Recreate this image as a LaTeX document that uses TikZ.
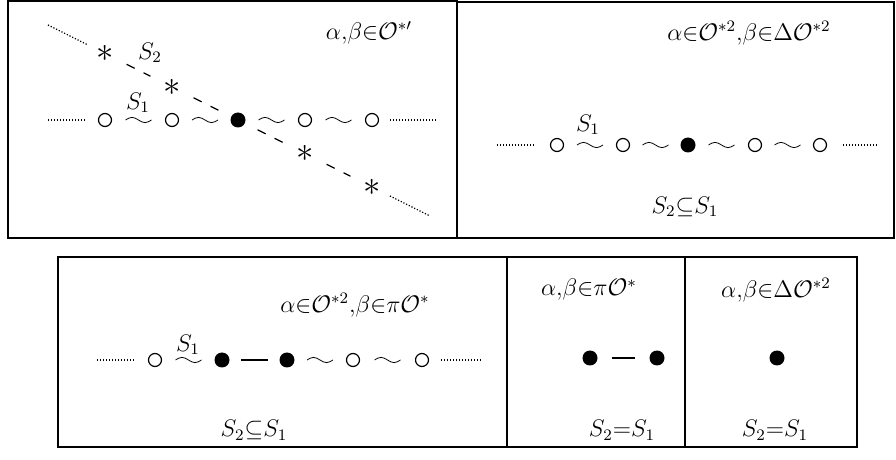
\documentclass[tikz,border=0pt]{standalone}
\usepackage{amsmath,amssymb}
\usetikzlibrary{calc}

\begin{document}
\begin{tikzpicture}[x=0.5pt,y=-0.5pt,
  every node/.style={font=\fontsize{12}{14}\selectfont},
  opendot/.style={circle,draw,line width=0.6pt,minimum size=6.5pt,inner sep=0pt},
  fulldot/.style={circle,fill,minimum size=7.5pt,inner sep=0pt},
  asterisk/.style={inner sep=0pt,font=\fontsize{17.28}{20}\selectfont},
  wig/.style={line width=0.55pt,to path={($(\tikztostart)!.5!(\tikztotarget)+(-6.5pt,0)$)
    sin ++(3.25pt,1.3pt) cos ++(3.25pt,-1.3pt) sin ++(3.25pt,-1.3pt) cos ++(3.25pt,1.3pt)}},
  dotline/.style={line width=0.6pt,dash pattern=on 0.6pt off 0.9pt},
  dashline/.style={line width=0.6pt,dash pattern=on 4.5pt off 5pt,shorten <=7pt,shorten >=7pt},
  box/.style={line width=0.8pt}]
  \useasboundingbox (0,0) rectangle (896,460);

  % top left panel
  \draw[box] (8,1) rectangle (457,238);
  \node at (369,33) {$\alpha{,}\beta{\in}\mathcal{O}^{*\prime}$};
  \node[opendot] (a1) at (105,120) {};
  \node[opendot] (a2) at (172,120) {};
  \node[fulldot] (a3) at (238,120) {};
  \node[opendot] (a4) at (305,120) {};
  \node[opendot] (a5) at (372,120) {};
  \coordinate (al) at (48,120);
  \coordinate (ar) at (437,120);
  \draw[dotline,shorten >=5.5pt] (al) -- (a1);
  \draw (a1) to[wig] (a2);
  \draw (a2) to[wig] (a3);
  \draw (a3) to[wig] (a4);
  \draw (a4) to[wig] (a5);
  \draw[dotline,shorten <=5.5pt] (a5) -- (ar);
  \node at (138,103) {$S_1$};
  \node[asterisk] (t1) at (105,53.5) {$*$};
  \node[asterisk] (t2) at (172,87) {$*$};
  \node[asterisk] (t3) at (305,153.5) {$*$};
  \node[asterisk] (t4) at (372,187) {$*$};
  \coordinate (tl) at (48,25);
  \coordinate (tr) at (430,216);
  \draw[dotline,shorten >=5pt] (tl) -- (t1);
  \draw[dashline] (t1) -- (t2);
  \draw[dashline] (t2) -- (a3);
  \draw[dashline] (a3) -- (t3);
  \draw[dashline] (t3) -- (t4);
  \draw[dotline,shorten <=5pt] (t4) -- (tr);
  \node at (150,53) {$S_2$};

  % top right panel
  \draw[box] (457,2) rectangle (894,238);
  \node at (749,33) {$\alpha{\in}\mathcal{O}^{*2}{,}\beta{\in}\Delta\mathcal{O}^{*2}$};
  \node[opendot] (b1) at (557,145) {};
  \node[opendot] (b2) at (623,145) {};
  \node[fulldot] (b3) at (688,145) {};
  \node[opendot] (b4) at (755,145) {};
  \node[opendot] (b5) at (820,145) {};
  \coordinate (bl) at (497,145);
  \coordinate (br) at (877,145);
  \draw[dotline,shorten >=8pt] (bl) -- (b1);
  \draw (b1) to[wig] (b2);
  \draw (b2) to[wig] (b3);
  \draw (b3) to[wig] (b4);
  \draw (b4) to[wig] (b5);
  \draw[dotline,shorten <=8pt] (b5) -- (br);
  \node at (588,125) {$S_1$};
  \node at (685,207) {$S_2{\subseteq}S_1$};

  % bottom row
  \draw[box] (58,257) rectangle (857,447);
  \draw[line width=1.4pt] (507,257) -- (507,447);
  \draw[box] (685,257) -- (685,447);

  % bottom left panel
  \node at (355,305) {$\alpha{\in}\mathcal{O}^{*2}{,}\beta{\in}\pi\mathcal{O}^{*}$};
  \node[opendot] (c1) at (155,360) {};
  \node[fulldot] (c2) at (222,360) {};
  \node[fulldot] (c3) at (287,360) {};
  \node[opendot] (c4) at (353,360) {};
  \node[opendot] (c5) at (422,360) {};
  \coordinate (cl) at (97,360);
  \coordinate (cr) at (482,360);
  \draw[dotline,shorten >=6pt] (cl) -- (c1);
  \draw (c1) to[wig] (c2);
  \draw[line width=0.6pt,shorten <=5.5pt,shorten >=5.5pt] (c2) -- (c3);
  \draw (c3) to[wig] (c4);
  \draw (c4) to[wig] (c5);
  \draw[dotline,shorten <=6pt] (c5) -- (cr);
  \node at (188,345) {$S_1$};
  \node at (254,430) {$S_2{\subseteq}S_1$};

  % bottom middle panel
  \node at (589,290) {$\alpha{,}\beta{\in}\pi\mathcal{O}^{*}$};
  \node[fulldot] (d1) at (590,358) {};
  \node[fulldot] (d2) at (657,358) {};
  \draw[line width=0.6pt,shorten <=7pt,shorten >=7pt] (d1) -- (d2);
  \node at (622,430) {$S_2{=}S_1$};

  % bottom right panel
  \node at (776,290) {$\alpha{,}\beta{\in}\Delta\mathcal{O}^{*2}$};
  \node[fulldot] (e1) at (777,358) {};
  \node at (775,430) {$S_2{=}S_1$};
\end{tikzpicture}
\end{document}
